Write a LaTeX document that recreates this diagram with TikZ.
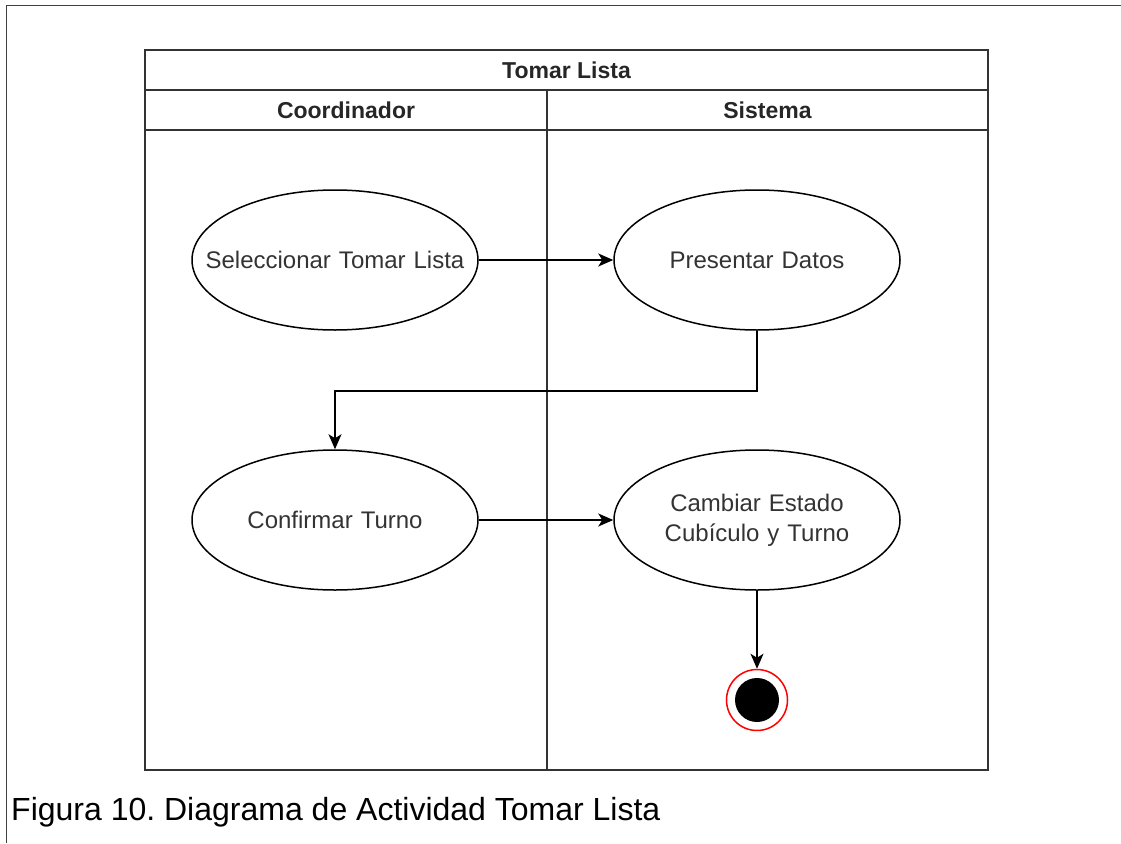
\documentclass[tikz,border=0pt]{standalone}
\usepackage{fontspec}
\setmainfont{Liberation Sans}
\usetikzlibrary{arrows.meta,shapes.geometric}
\frenchspacing

\begin{document}
\begin{tikzpicture}[x=1pt,y=-1pt,
  lane/.style={draw=black!80,line width=2pt},
  act/.style={ellipse,draw=black,line width=1.5pt,minimum width=286pt,
    minimum height=140pt,inner sep=0pt,text width=190pt,align=center,
    text=black!80,font=\fontsize{24}{30}\selectfont},
  hdr/.style={font=\fontsize{23}{26}\selectfont\bfseries,text=black!85,inner sep=0pt},
  flow/.style={line width=1.5pt,-{Stealth[length=15pt,width=13pt,inset=4pt]}},
]
\useasboundingbox (0,0) rectangle (1121,843);

% page frame (top and left edges)
\draw[line width=1pt,black!75] (6,843) -- (6,6) -- (1121,6);

% swimlane pool
\draw[lane] (145,50) rectangle (988,770);
\draw[lane] (145,90) -- (988,90);
\draw[lane] (145,130) -- (988,130);
\draw[lane] (547,90) -- (547,770);

\node[hdr] (pool) at (566.5,70) {Tomar Lista};
\node[hdr] (laneA) at (346,110) {Coordinador};
\node[hdr] (laneB) at (767.5,110) {Sistema};

% activities
\node[act] (sel)  at (335,260) {\makebox[190pt][c]{Seleccionar Tomar Lista}};
\node[act] (pres) at (757,260) {Presentar Datos};
\node[act] (conf) at (335,520) {Confirmar Turno};
\node[act] (camb) at (757,520) {Cambiar Estado\\Cubículo y Turno};

% final node
\node[circle,draw=red,line width=1.5pt,minimum size=61pt,inner sep=0pt] (end) at (757,700) {};
\node[circle,fill=black,minimum size=44pt,inner sep=0pt] (endcore) at (end.center) {};

% control flow
\draw[flow] (sel) -- (pres);
\draw[flow] (pres.south) -- ++(0,60) -| (conf.north);
\draw[flow] (conf) -- (camb);
\draw[flow] (camb.south) -- (end.north);

% caption
\node[anchor=base west,inner sep=0pt,font=\fontsize{32}{36}\selectfont] (cap) at (11,820)
  {Figura 10. Diagrama de Actividad Tomar Lista};
\end{tikzpicture}
\end{document}
